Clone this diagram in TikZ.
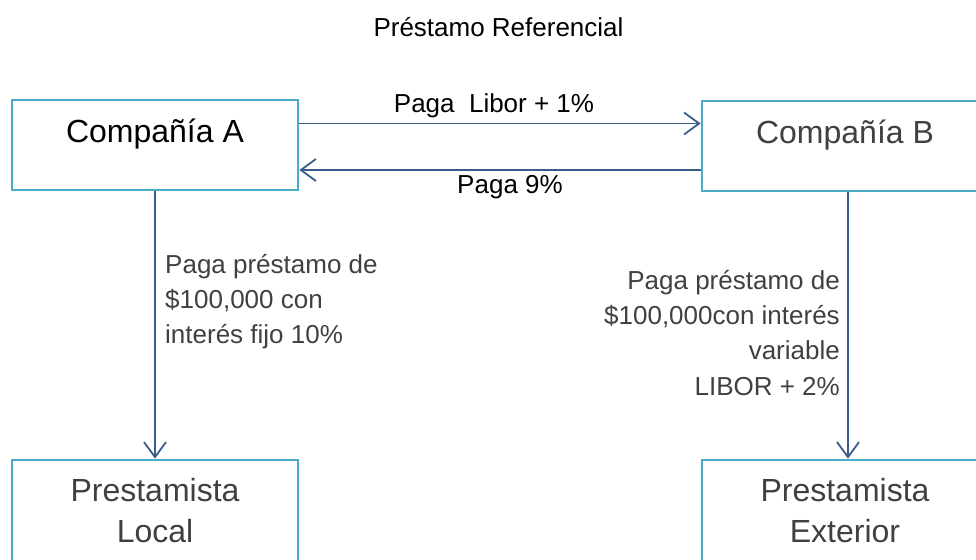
\documentclass[tikz,border=0pt]{standalone}
\usepackage{fontspec}
\setmainfont{Liberation Sans}
\usetikzlibrary{arrows.meta}
\definecolor{boxblue}{RGB}{75,172,198}
\definecolor{arrblue}{RGB}{56,93,138}
\definecolor{txtgray}{RGB}{64,64,64}
\begin{document}
\begin{tikzpicture}[x=1pt,y=-1pt,
  box/.style={draw=boxblue,line width=2.8pt,minimum width=286pt,minimum height=90pt,inner sep=0pt,fill=white},
  flow/.style={draw=arrblue,line width=1.8pt,-{Straight Barb[length=15pt,width=22pt,line width=1.8pt]}},
  big/.style={font=\fontsize{32}{40}\selectfont,inner sep=0pt,anchor=base},
  small/.style={font=\fontsize{26}{31}\selectfont,inner sep=0pt},
]
\useasboundingbox (0,0) rectangle (976,559);
\clip (0,0) rectangle (976,559);
% boxes
\node[box] (A) at (155,145) {};
\node[box] (B) at (845,146) {};
\node[box,minimum height=110pt] (L) at (155,515) {};
\node[box,minimum height=110pt] (E) at (845,515) {};
% box texts
\node[big] (tA) at (155,142) {Compañía A};
\node[big,text=txtgray] (tB) at (845,143) {Compañía B};
\node[big,text=txtgray] (tL1) at (155,501) {Prestamista};
\node[big,text=txtgray] (tL2) at (155,542) {Local};
\node[big,text=txtgray] (tE1) at (845,501) {Prestamista};
\node[big,text=txtgray] (tE2) at (845,542) {Exterior};
% title
\node[small,anchor=base] (title) at (498.5,37) {Préstamo Referencial};
% connectors
\draw[flow] ([yshift=21.5pt]A.east) -- ([yshift=21.5pt]A.east -| B.west);
\draw[flow] ([yshift=-24pt]B.west) -- ([yshift=-24pt]B.west -| A.east);
\draw[flow] (A.south) -- (L.north);
\draw[flow] ([xshift=3pt]B.south) -- ([xshift=3pt]B.south |- E.north);
% connector labels
\node[small,anchor=base] (l1) at (494,113) {Paga\ \ Libor + 1\%};
\node[small,anchor=base] (l2) at (510,193) {Paga 9\%};
\node[small,anchor=base west,text=txtgray] (la1) at (165,273) {Paga préstamo de};
\node[small,anchor=base west,text=txtgray] (la2) at (165,308) {\$100,000 con};
\node[small,anchor=base west,text=txtgray] (la3) at (165,343) {interés fijo 10\%};
\node[small,anchor=base east,text=txtgray] (lb1) at (840,289) {Paga préstamo de};
\node[small,anchor=base east,text=txtgray] (lb2) at (840,324) {\$100,000con interés};
\node[small,anchor=base east,text=txtgray] (lb3) at (840,359) {variable};
\node[small,anchor=base east,text=txtgray] (lb4) at (840,395) {LIBOR + 2\%};
\end{tikzpicture}
\end{document}
